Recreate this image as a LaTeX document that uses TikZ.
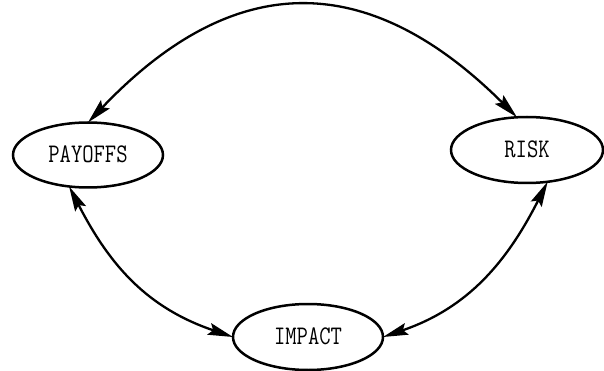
\documentclass[tikz,border=0pt]{standalone}
\usetikzlibrary{arrows.meta,shapes.geometric}
\begin{document}
\begin{tikzpicture}[x=1pt,y=-1pt,
  state/.style={draw, ellipse, line width=2.5pt, inner sep=0pt, outer sep=0pt,
    minimum width=150pt, minimum height=65pt,
    font=\ttfamily\fontsize{22}{22}\selectfont},
  link/.style={line width=2.3pt, {Stealth[length=25pt 0,width=12pt 0,inset=4pt 0]}-{Stealth[length=25pt 0,width=12pt 0,inset=4pt 0]}}]
\useasboundingbox (0,0) rectangle (604,371);
\node[state] (pay) at (88,155) {\raisebox{1.5pt}{\scalebox{1}[1.22]{PAYOFFS}}};
\node[state, minimum width=152pt, minimum height=66pt] (risk) at (527,150) {\raisebox{1.5pt}{\scalebox{1}[1.22]{RISK}}};
\node[state, minimum height=66pt] (imp) at (308,337) {\raisebox{1.5pt}{\scalebox{1}[1.22]{IMPACT}}};
\draw[link] (pay.north) .. controls (234,-31) and (368,-31) .. (risk.107);
\draw[link] (pay.-121) .. controls (110,266) and (147.5,308) .. (imp.west);
\draw[link] (risk.-57) .. controls (507,262) and (468,308) .. (imp.east);
\end{tikzpicture}
\end{document}
